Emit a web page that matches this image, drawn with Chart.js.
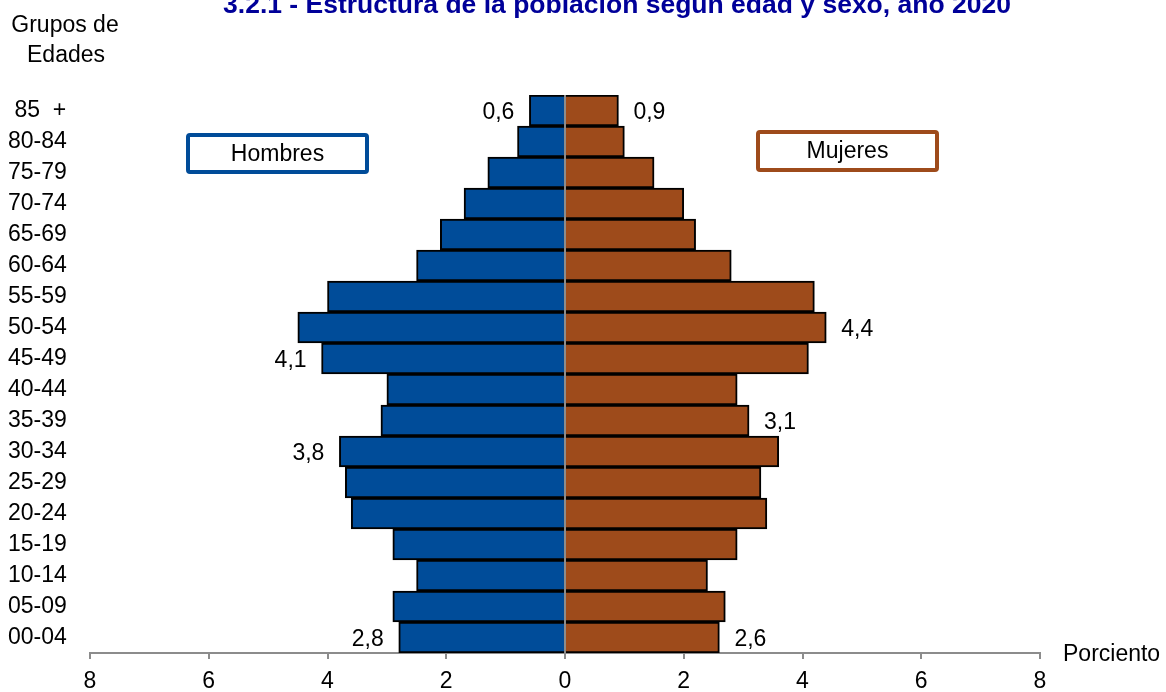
<!DOCTYPE html>
<html>
<head>
<meta charset="utf-8">
<script src="https://cdn.jsdelivr.net/npm/chart.js@4.4.1/dist/chart.umd.min.js"></script>
<style>
  body { margin: 0; background: #fff; }
  #wrap { width: 1166px; height: 692px; position: relative; }
</style>
</head>
<body>
<div id="wrap"><canvas id="pyramid"></canvas></div>
<script>
// ================= DATA =================
const ageGroups = [" 85  +", "80-84", "75-79", "70-74", "65-69", "60-64", "55-59", "50-54", "45-49",
  "40-44", "35-39", "30-34", "25-29", "20-24", "15-19", "10-14", "05-09", "00-04"];
const menPct = [0.6, 0.8, 1.3, 1.7, 2.1, 2.5, 4.0, 4.5, 4.1, 3.0, 3.1, 3.8, 3.7, 3.6, 2.9, 2.5, 2.9, 2.8];
const womenPct = [0.9, 1.0, 1.5, 2.0, 2.2, 2.8, 4.2, 4.4, 4.1, 2.9, 3.1, 3.6, 3.3, 3.4, 2.9, 2.4, 2.7, 2.6];
const axisMin = -8;
const axisMax = 8;
const axisStep = 2;
// groups that carry a value label in the original
const menLabeled = [" 85  +", "45-49", "30-34", "00-04"];
const womenLabeled = [" 85  +", "50-54", "35-39", "00-04"];

const BLUE = "#004C99";
const BROWN = "#9E4B1B";
const FONT = '"Liberation Sans", Arial, sans-serif';

const fmt = v => Math.abs(v).toFixed(1).replace(".", ",");

// ================= DECORATIONS =================
const decor = {
  id: "decor",
  afterDatasetsDraw(chart) {
    const { ctx, chartArea, scales } = chart;
    const x0 = scales.x.getPixelForValue(0);

    // center line
    ctx.save();
    ctx.strokeStyle = "#8c8c8c";
    ctx.lineWidth = 2;
    ctx.beginPath();
    ctx.moveTo(x0, chartArea.top);
    ctx.lineTo(x0, chartArea.bottom);
    ctx.stroke();

    // value labels
    ctx.font = "23px " + FONT;
    ctx.fillStyle = "#000";
    ctx.textBaseline = "middle";
    chart.getDatasetMeta(0).data.forEach((bar, i) => {
      if (!menLabeled.includes(ageGroups[i])) return;
      ctx.textAlign = "right";
      ctx.fillText(fmt(menPct[i]), bar.x - 15, bar.y + 2);
    });
    chart.getDatasetMeta(1).data.forEach((bar, i) => {
      if (!womenLabeled.includes(ageGroups[i])) return;
      ctx.textAlign = "left";
      ctx.fillText(fmt(womenPct[i]), bar.x + 15, bar.y + 2);
    });

    // title
    ctx.font = "bold 26.5px " + FONT;
    ctx.fillStyle = "#000099";
    ctx.textAlign = "center";
    ctx.textBaseline = "alphabetic";
    ctx.fillText("3.2.1 - Estructura de la población según edad y sexo, año 2020", 617, 13);

    // axis titles
    ctx.font = "23px " + FONT;
    ctx.fillStyle = "#000";
    ctx.fillText("Grupos de", 65, 32);
    ctx.fillText("Edades", 66, 62);
    ctx.textAlign = "left";
    ctx.fillText("Porciento", 1063, 661);

    // legend boxes
    const box = (x, y, w, h, color, text) => {
      ctx.strokeStyle = color;
      ctx.lineWidth = 4;
      ctx.beginPath();
      ctx.roundRect(x, y, w, h, 2);
      ctx.stroke();
      ctx.fillStyle = "#000";
      ctx.textAlign = "center";
      ctx.textBaseline = "middle";
      ctx.fillText(text, x + w / 2, y + h / 2 + 1);
    };
    box(188, 135, 179, 37, BLUE, "Hombres");
    box(758, 132, 179, 38, BROWN, "Mujeres");
    ctx.restore();
  }
};

// ================= CHART =================
new Chart(document.getElementById("pyramid"), {
  type: "bar",
  data: {
    labels: ageGroups,
    datasets: [
      {
        label: "Hombres",
        data: menPct.map(v => -v),
        backgroundColor: BLUE,
        borderColor: "#000",
        borderWidth: 2,
        borderSkipped: "start",
        barPercentage: 1,
        categoryPercentage: 1
      },
      {
        label: "Mujeres",
        data: womenPct,
        backgroundColor: BROWN,
        borderColor: "#000",
        borderWidth: 2,
        borderSkipped: "start",
        barPercentage: 1,
        categoryPercentage: 1
      }
    ]
  },
  options: {
    indexAxis: "y",
    responsive: true,
    maintainAspectRatio: false,
    animation: false,
    layout: { padding: { top: 95, left: 8, right: 126, bottom: 0 } },
    plugins: {
      legend: { display: false },
      title: { display: false },
      tooltip: { enabled: false }
    },
    scales: {
      x: {
        stacked: true,
        min: axisMin,
        max: axisMax,
        ticks: {
          stepSize: axisStep,
          color: "#000",
          font: { size: 23, family: FONT },
          padding: 9,
          callback: v => Math.abs(v)
        },
        grid: { drawOnChartArea: false, drawTicks: true, tickLength: 6, color: "#8c8c8c", lineWidth: 2 },
        border: { display: true, color: "#8c8c8c", width: 2 },
        afterFit: s => { s.height = 39; }
      },
      y: {
        stacked: true,
        ticks: {
          color: "#000",
          font: { size: 23, family: FONT },
          crossAlign: "far",
          autoSkip: false
        },
        grid: { display: false },
        border: { display: false },
        afterFit: s => { s.width = 82; }
      }
    }
  },
  plugins: [decor]
});
</script>
</body>
</html>
